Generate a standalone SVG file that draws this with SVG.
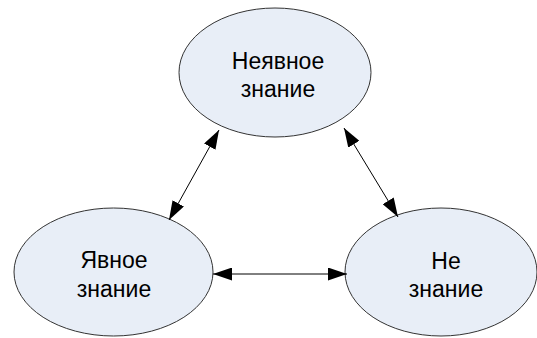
<svg xmlns="http://www.w3.org/2000/svg" width="537" height="338" viewBox="0 0 537 338">
<style>
.node ellipse{fill:#E8EEF7;stroke:#333;stroke-width:1}
.node text{font-family:"Liberation Sans",Arial,sans-serif;font-size:23px;fill:#000;text-anchor:middle}
.conn line{stroke:#000;stroke-width:1}
</style>
<defs>
<marker id="ah" viewBox="0 0 19 13" refX="19" refY="6.5" markerWidth="19" markerHeight="13" markerUnits="userSpaceOnUse" orient="auto-start-reverse">
<path d="M0,0 L19,6.5 L0,13 Z" fill="#000"/>
</marker>
</defs>
<rect width="537" height="338" fill="#fff"/>
<g id="n-implicit" class="node">
<ellipse cx="275" cy="72.5" rx="96" ry="64.5"/>
<text x="278" y="69">Неявное</text>
<text x="278" y="97">знание</text>
</g>
<g id="n-explicit" class="node">
<ellipse cx="113.5" cy="272" rx="99.5" ry="64"/>
<text x="114" y="268">Явное</text>
<text x="114" y="297">знание</text>
</g>
<g id="n-not" class="node">
<ellipse cx="441" cy="272" rx="96" ry="64"/>
<text x="446" y="269">Не</text>
<text x="446" y="297">знание</text>
</g>
<g class="conn">
<line x1="219" y1="130" x2="169" y2="220" marker-start="url(#ah)" marker-end="url(#ah)"/>
<line x1="344" y1="128" x2="398" y2="217" marker-start="url(#ah)" marker-end="url(#ah)"/>
<line x1="213" y1="274" x2="347" y2="274" marker-start="url(#ah)" marker-end="url(#ah)"/>
</g>
</svg>
